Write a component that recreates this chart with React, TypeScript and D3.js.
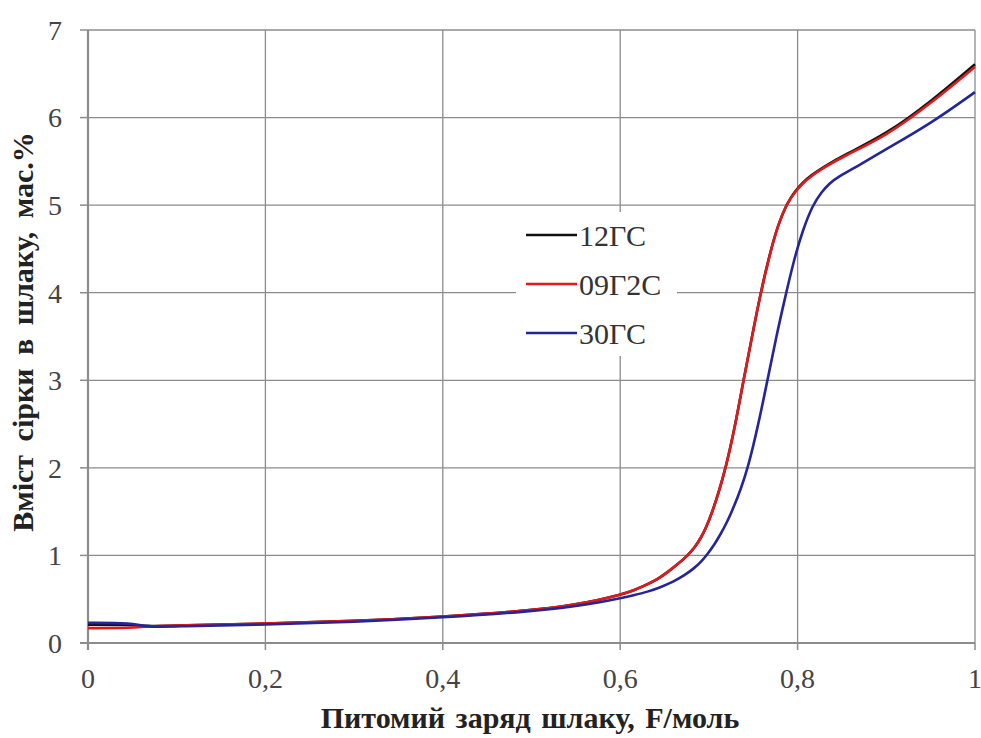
import React from "react";
import * as d3 from "d3";

const W = 981;
const H = 738;

const xTicks = [0, 0.2, 0.4, 0.6, 0.8, 1];
const xTickLabels = ["0", "0,2", "0,4", "0,6", "0,8", "1"];
const yTicks = [0, 1, 2, 3, 4, 5, 6, 7];
const yTickLabels = ["0", "1", "2", "3", "4", "5", "6", "7"];

const seriesNames = ["12ГС", "09Г2С", "30ГС"];
const seriesColors = ["#111111", "#e01a1c", "#25259a"];

const x12GS = [0, 0.05, 0.065, 0.1, 0.2, 0.3, 0.4, 0.5, 0.55, 0.575, 0.6, 0.615, 0.631, 0.643, 0.653, 0.665, 0.676, 0.684, 0.691, 0.697, 0.704, 0.711, 0.719, 0.729, 0.739, 0.749, 0.758, 0.768, 0.778, 0.788, 0.797, 0.806, 0.815, 0.83, 0.85, 0.9, 0.95, 1.0];
const y12GS = [0.21, 0.21, 0.19, 0.2, 0.22, 0.25, 0.3, 0.37, 0.44, 0.49, 0.55, 0.6, 0.67, 0.735, 0.805, 0.9, 1.0, 1.09, 1.2, 1.32, 1.5, 1.72, 2.0, 2.45, 3.0, 3.52, 3.98, 4.42, 4.78, 5.02, 5.16, 5.26, 5.34, 5.44, 5.56, 5.81, 6.18, 6.61];

const x09G2S = [0, 0.05, 0.065, 0.1, 0.2, 0.3, 0.4, 0.5, 0.55, 0.575, 0.6, 0.615, 0.631, 0.643, 0.653, 0.665, 0.676, 0.684, 0.691, 0.697, 0.704, 0.711, 0.719, 0.729, 0.739, 0.749, 0.758, 0.768, 0.778, 0.788, 0.797, 0.806, 0.815, 0.83, 0.85, 0.9, 0.95, 1.0];
const y09G2S = [0.17, 0.17, 0.19, 0.2, 0.22, 0.25, 0.3, 0.37, 0.44, 0.49, 0.55, 0.6, 0.67, 0.735, 0.805, 0.9, 1.0, 1.09, 1.2, 1.32, 1.5, 1.72, 2.0, 2.45, 3.0, 3.52, 3.98, 4.42, 4.78, 5.02, 5.15, 5.25, 5.33, 5.43, 5.55, 5.79, 6.16, 6.58];

const x30GS = [0, 0.05, 0.065, 0.1, 0.2, 0.3, 0.4, 0.5, 0.55, 0.575, 0.6, 0.615, 0.631, 0.645, 0.66, 0.672, 0.683, 0.691, 0.698, 0.706, 0.713, 0.72, 0.728, 0.736, 0.744, 0.755, 0.766, 0.776, 0.786, 0.796, 0.806, 0.817, 0.827, 0.836, 0.845, 0.87, 0.9, 0.95, 1.0];
const y30GS = [0.23, 0.23, 0.18, 0.19, 0.21, 0.24, 0.29, 0.36, 0.42, 0.46, 0.51, 0.545, 0.585, 0.635, 0.7, 0.77, 0.85, 0.925, 1.01, 1.12, 1.24, 1.37, 1.55, 1.76, 2.0, 2.46, 3.0, 3.5, 3.95, 4.38, 4.72, 5.0, 5.15, 5.25, 5.32, 5.46, 5.64, 5.93, 6.29];

const seriesX = [x12GS, x09G2S, x30GS];
const seriesY = [y12GS, y09G2S, y30GS];

export default function App() {
  const left = 88;
  const right = 975;
  const top = 30;
  const bottom = 643;

  const x = d3.scaleLinear().domain([0, 1]).range([left, right]);
  const y = d3.scaleLinear().domain([0, 7]).range([bottom, top]);

  const line = d3
    .line<[number, number]>()
    .x((d) => x(d[0]))
    .y((d) => y(d[1]))
    .curve(d3.curveBasis);

  const gridColor = "#8c8c8c";
  const serif = "'Liberation Serif', 'Times New Roman', serif";

  const legendX = 516;
  const legendY = 212;
  const legendRows = [235, 284, 333];

  return (
    <svg width={W} height={H} style={{ position: "absolute", left: 0, top: 0, background: "#fff" }}>
      <rect x={0} y={0} width={W} height={H} fill="#fff" />
      {yTicks.map((t) => (
        <line key={"gy" + t} x1={left} x2={right} y1={y(t)} y2={y(t)} stroke={gridColor} strokeWidth={1.3} />
      ))}
      {xTicks.map((t) => (
        <line key={"gx" + t} x1={x(t)} x2={x(t)} y1={top} y2={bottom} stroke={gridColor} strokeWidth={1.3} />
      ))}
      <line x1={left} x2={left} y1={top} y2={bottom + 7} stroke={gridColor} strokeWidth={2.2} />
      <line x1={left - 8} x2={right} y1={bottom} y2={bottom} stroke={gridColor} strokeWidth={2.2} />
      {yTicks.map((t) => (
        <line key={"ty" + t} x1={left - 8} x2={left} y1={y(t)} y2={y(t)} stroke={gridColor} strokeWidth={1.5} />
      ))}
      {xTicks.map((t) => (
        <line key={"tx" + t} x1={x(t)} x2={x(t)} y1={bottom} y2={bottom + 7} stroke={gridColor} strokeWidth={1.5} />
      ))}
      <rect x={legendX} y={legendY} width={161} height={144} fill="#fff" />
      {seriesX.map((xs, i) => {
        const pts: [number, number][] = xs.map((v, j) => [v, seriesY[i][j]]);
        return (
          <path
            key={"s" + i}
            d={line(pts) || ""}
            fill="none"
            stroke={seriesColors[i]}
            strokeWidth={2.6}
            strokeLinejoin="round"
          />
        );
      })}
      {yTicks.map((t, i) => (
        <text
          key={"ly" + t}
          x={62}
          y={y(t)}
          dy="0.35em"
          textAnchor="end"
          fontFamily={serif}
          fontSize={28}
          fill="#444"
        >
          {yTickLabels[i]}
        </text>
      ))}
      {xTicks.map((t, i) => (
        <text
          key={"lx" + t}
          x={x(t)}
          y={688}
          textAnchor="middle"
          fontFamily={serif}
          fontSize={28}
          fill="#444"
        >
          {xTickLabels[i]}
        </text>
      ))}
      {seriesNames.map((n, i) => (
        <g key={"lg" + i}>
          <line x1={526} x2={577} y1={legendRows[i]} y2={legendRows[i]} stroke={seriesColors[i]} strokeWidth={2.6} />
          <text x={579} y={legendRows[i]} dy="0.35em" fontFamily={serif} fontSize={30} fill="#333">
            {n}
          </text>
        </g>
      ))}
      <text
        x={530}
        y={728}
        textAnchor="middle"
        fontFamily={serif}
        fontWeight="bold"
        fontSize={30}
        wordSpacing={3}
        fill="#222"
      >
        Питомий заряд шлаку, F/моль
      </text>
      <text
        transform={`translate(33, 332) rotate(-90)`}
        textAnchor="middle"
        fontFamily={serif}
        fontWeight="bold"
        fontSize={30}
        wordSpacing={6}
        fill="#222"
      >
        Вміст сірки в шлаку, мас.%
      </text>
    </svg>
  );
}
